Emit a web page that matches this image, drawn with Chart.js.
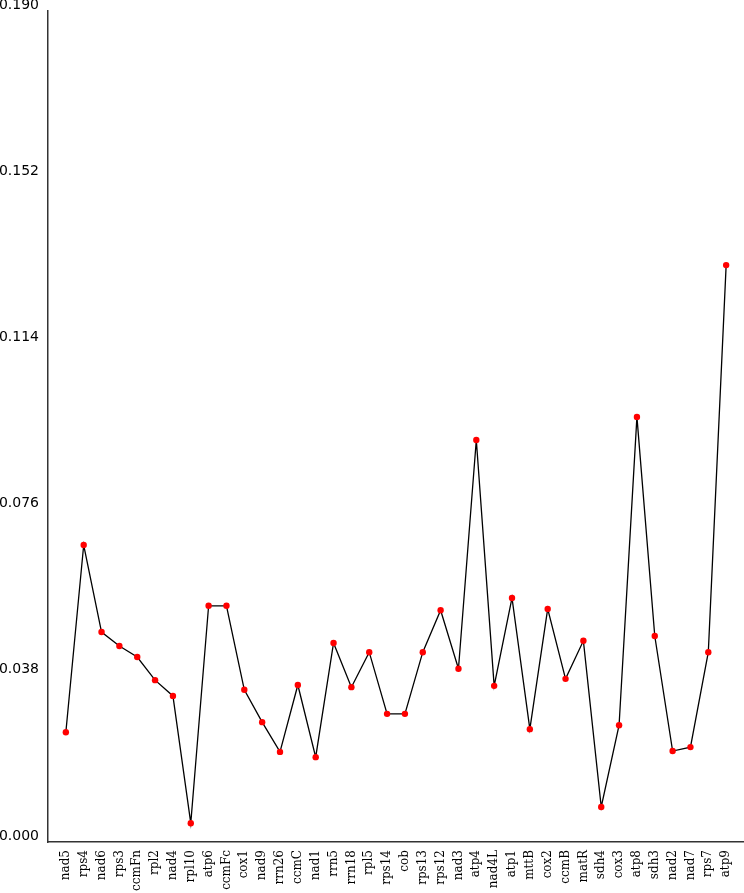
<!DOCTYPE html>
<html>
<head>
<meta charset="utf-8">
<script src="https://cdn.jsdelivr.net/npm/chart.js@4"></script>
<style>
  html, body { margin: 0; padding: 0; background: #fff; overflow: hidden; }
  #wrap { width: 748px; height: 893px; position: relative; }
</style>
</head>
<body>
<div id="wrap"><canvas id="rscu-chart"></canvas></div>
<script>
// genes along the x axis
const genes = ["nad5", "rps4", "nad6", "rps3", "ccmFn", "rpl2", "nad4", "rpl10", "atp6", "ccmFc",
  "cox1", "nad9", "rrn26", "ccmC", "nad1", "rrn5", "rrn18", "rpl5", "rps14", "cob",
  "rps13", "rps12", "nad3", "atp4", "nad4L", "atp1", "mttB", "cox2", "ccmB", "matR",
  "sdh4", "cox3", "atp8", "sdh3", "nad2", "nad7", "rps7", "atp9"];

const values = [0.0251, 0.0679, 0.0480, 0.0448, 0.0423, 0.0370, 0.0334, 0.0043, 0.0540, 0.0540,
  0.0348, 0.0274, 0.0206, 0.0359, 0.0194, 0.0455, 0.0354, 0.0434, 0.0293, 0.0293,
  0.0434, 0.0530, 0.0396, 0.0919, 0.0357, 0.0558, 0.0258, 0.0533, 0.0373, 0.0460,
  0.0080, 0.0267, 0.0972, 0.0471, 0.0208, 0.0217, 0.0434, 0.1319];

const yTicks = [0, 0.038, 0.076, 0.114, 0.152, 0.19];

const ctx = document.getElementById("rscu-chart");
new Chart(ctx, {
  type: "line",
  data: {
    datasets: [
      {
        data: values.map((v, i) => ({ x: i, y: v })),
        borderColor: "#000",
        borderWidth: 1.3,
        pointBackgroundColor: "#ff0000",
        pointBorderColor: "#ff0000",
        pointRadius: 3.2,
        pointBorderWidth: 0,
        tension: 0,
      },
    ],
  },
  options: {
    responsive: true,
    maintainAspectRatio: false,
    animation: false,
    layout: { padding: { top: 11, right: 0, left: 0, bottom: 0 } },
    plugins: { legend: { display: false }, tooltip: { enabled: false } },
    scales: {
      x: {
        type: "linear",
        min: -1,
        max: genes.length,
        grid: { display: false, drawTicks: false },
        border: { display: true, color: "#333", width: 1.5 },
        afterBuildTicks: (s) => { s.ticks = genes.map((_, i) => ({ value: i })); },
        afterFit: (s) => { s.height = 51; s.paddingLeft = 0; s.paddingRight = 0; },
        ticks: {
          autoSkip: false,
          minRotation: 90,
          maxRotation: 90,
          padding: 8,
          color: "#000",
          font: { family: "'DejaVu Serif', serif", size: 12 },
          callback: (v) => genes[v],
        },
      },
      y: {
        min: 0,
        max: 0.19,
        grid: { display: false, drawTicks: false },
        border: { display: true, color: "#333", width: 1.5 },
        afterBuildTicks: (s) => { s.ticks = yTicks.map((v) => ({ value: v })); },
        afterFit: (s) => { s.width = 48; s.paddingTop = 0; s.paddingBottom = 0; },
        ticks: {
          color: "#000",
          font: { family: "'DejaVu Sans', sans-serif", size: 14 },
          padding: 9,
          labelOffset: -6,
          callback: (v) => v.toFixed(3),
        },
      },
    },
  },
});
</script>
</body>
</html>
